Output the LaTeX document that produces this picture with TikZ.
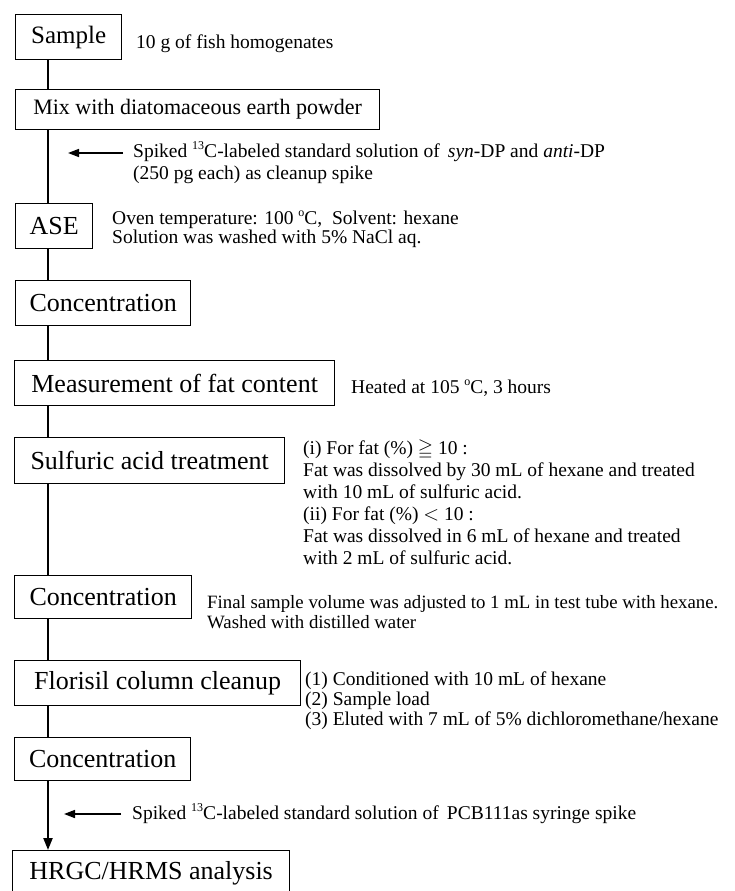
\documentclass[tikz,border=0pt]{standalone}
\usepackage{amssymb}
\usepackage{fontspec}
\setmainfont{Liberation Serif}
\usetikzlibrary{arrows.meta}
\newcommand{\bigf}{\fontsize{26}{30}\selectfont}
\newcommand{\midf}{\fontsize{22}{26}\selectfont}
\newcommand{\smallf}{\fontsize{19.5}{22}\selectfont}
\newcommand{\sups}[1]{\raisebox{0.42em}{\fontsize{12}{12}\selectfont #1}}
\begin{document}
\begin{tikzpicture}[x=1pt,y=-1pt,
  box/.style={draw,line width=1.3pt,inner sep=0pt,anchor=north west,font=\bigf},
  note/.style={inner sep=0pt,anchor=west,align=left,font=\smallf},
  flow/.style={line width=2.2pt},
  spike/.style={line width=1.6pt,-{Triangle[length=11pt,width=8pt]}}]
\useasboundingbox (0,0) rectangle (735,891);
\fill[white] (0,0) rectangle (735,891);
% boxes
\node[box,minimum width=106pt,minimum height=45pt,font=\fontsize{25}{30}\selectfont] (sample) at (15,14) {Sample};
\node[box,minimum width=364pt,minimum height=40pt,font=\midf] (mix) at (15,89) {Mix with diatomaceous earth powder};
\node[box,minimum width=77pt,minimum height=45pt] (ase) at (15,203) {ASE};
\node[box,minimum width=175pt,minimum height=45pt] (conc1) at (15,280) {Concentration};
\node[box,minimum width=320pt,minimum height=45pt] (meas) at (14,360) {Measurement of fat content};
\node[box,minimum width=270pt,minimum height=46pt] (sulf) at (14,437) {Sulfuric acid treatment};
\node[box,minimum width=177pt,minimum height=43pt] (conc2) at (14,575) {Concentration};
\node[box,minimum width=286pt,minimum height=45pt] (flor) at (14,660) {Florisil column cleanup};
\node[box,minimum width=176pt,minimum height=43pt] (conc3) at (14,737) {Concentration};
\node[box,minimum width=277pt,minimum height=46pt] (hrgc) at (12,850) {HRGC/HRMS analysis};
% flow line
\coordinate (lx) at (48,0);
\draw[flow] (sample.south -| lx) -- (mix.north -| lx);
\draw[flow] (mix.south -| lx) -- (ase.north -| lx);
\draw[flow] (ase.south -| lx) -- (conc1.north -| lx);
\draw[flow] (conc1.south -| lx) -- (meas.north -| lx);
\draw[flow] (meas.south -| lx) -- (sulf.north -| lx);
\draw[flow] (sulf.south -| lx) -- (conc2.north -| lx);
\draw[flow] (conc2.south -| lx) -- (flor.north -| lx);
\draw[flow] (flor.south -| lx) -- (conc3.north -| lx);
\draw[flow,-{Triangle[length=12pt,width=9pt]}] (conc3.south -| lx) -- (hrgc.north -| lx);
% spike arrows
\coordinate (a1s) at (123,153);
\coordinate (a1e) at (68,153);
\coordinate (a2s) at (121,814);
\coordinate (a2e) at (64,814);
\draw[spike] (a1s) -- (a1e);
\draw[spike] (a2s) -- (a2e);
% notes
\node[note] (n1) at (136,44) {10 g of fish homogenates};
\node[note] (n2) at (133,163) {Spiked \sups{13}C-labeled standard solution of \,\textit{syn}-DP and \textit{anti}-DP\\(250 pg each) as cleanup spike};
\node[note,font=\fontsize{19.5}{19}\selectfont] (n3) at (112,229) {Oven temperature: 100 \sups{o}C, \ Solvent: hexane\\Solution was washed with 5\% NaCl aq.};
\node[note] (n4) at (351,388) {Heated at 105 \sups{o}C, 3 hours};
\node[note] (n5) at (303,502) {(i) For fat (\%) $\geqq$ 10 :\\Fat was dissolved by 30 mL of hexane and treated\\with 10 mL of sulfuric acid.\\(ii) For fat (\%) $<$ 10 :\\Fat was dissolved in 6 mL of hexane and treated\\with 2 mL of sulfuric acid.};
\node[note,font=\fontsize{18.8}{19.5}\selectfont] (n6) at (207,612) {Final sample volume was adjusted to 1 mL in test tube with hexane.\\Washed with distilled water};
\node[note,font=\fontsize{19.5}{20}\selectfont] (n7) at (305,701) {(1) Conditioned with 10 mL of hexane\\(2) Sample load\\(3) Eluted with 7 mL of 5\% dichloromethane/hexane};
\node[note] (n8) at (132,814) {Spiked \sups{13}C-labeled standard solution of \,PCB111as syringe spike};
\end{tikzpicture}
\end{document}
